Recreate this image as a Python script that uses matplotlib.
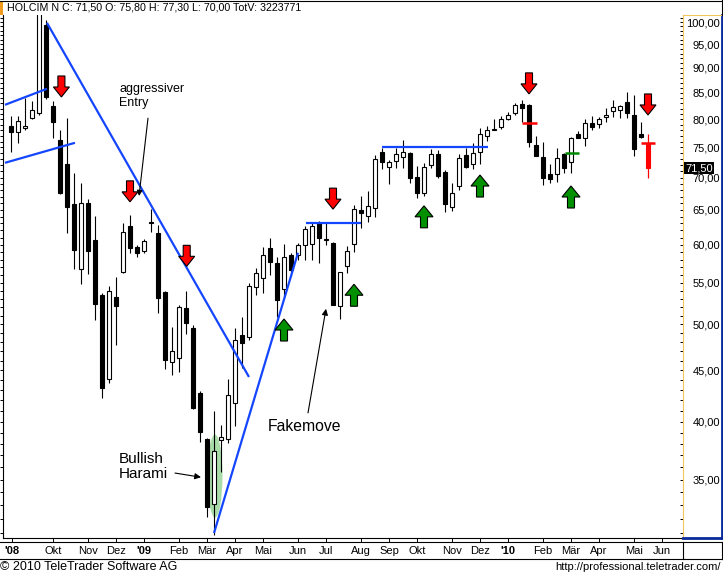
import numpy as np
import matplotlib
matplotlib.use('Agg')
import matplotlib.pyplot as plt
from matplotlib import transforms
from matplotlib.patches import Polygon, Ellipse
from matplotlib.lines import Line2D
from matplotlib.ticker import FixedLocator, NullFormatter, FuncFormatter

plt.rcParams['font.family'] = ['Liberation Sans', 'DejaVu Sans']

# ---------------- data (weekly candles, Aug 2008 - May 2010) ----------------
opens = [78.8, 77.7, 78.4, 80.2, 81.2, 99.3, 82.5, 76.3, 72.2, 65.9,
         56.7, 66.0, 60.65, 53.5, 44.1, 53.2, 56.4, 62.6, 59.7, 59.1,
         63.2, 61.6, 53.8, 45.85, 46.3, 51.9, 49.6, 42.7, 38.4, 33.1,
         38.3, 38.4, 41.7, 48.8, 48.6, 54.4, 55.6, 59.55, 57.5, 54.2,
         58.6, 58.6, 59.9, 60.1, 63.1, 60.6, 60.2, 52.1, 57.1, 60.1,
         64.9, 64.1, 65.3, 74.2, 71.7, 72.7, 73.4, 74.0, 70.1, 67.6,
         72.0, 73.9, 70.9, 65.4, 68.6, 73.7, 72.2, 74.2, 77.0, 78.1,
         78.6, 80.0, 81.2, 82.8, 82.6, 75.4, 73.4, 70.6, 70.6, 73.9,
         72.5, 77.3, 76.6, 79.3, 79.2, 80.5, 81.6, 81.7, 83.2, 80.8,
         77.3, 75.8]
highs = [80.6, 80.6, 84.0, 83.4, 106.0, 100.5, 83.4, 78.0, 80.2, 70.7,
         69.1, 66.6, 64.1, 53.7, 54.6, 55.7, 63.1, 64.2, 60.0, 60.8,
         65.1, 62.8, 54.0, 49.7, 52.3, 53.95, 49.9, 42.9, 38.5, 41.0,
         39.7, 44.1, 49.6, 50.8, 55.0, 56.9, 59.7, 60.9, 58.3, 60.1,
         58.9, 60.3, 62.6, 63.1, 63.3, 63.1, 60.4, 56.4, 59.8, 65.7,
         67.1, 67.8, 73.7, 74.9, 72.8, 74.9, 76.3, 74.2, 71.9, 72.4,
         74.7, 74.5, 71.2, 69.1, 73.9, 74.9, 75.8, 78.4, 78.8, 80.0,
         80.6, 81.4, 83.0, 83.6, 82.8, 77.0, 75.9, 72.2, 74.9, 74.0,
         76.8, 77.9, 80.0, 80.6, 80.4, 82.1, 83.6, 82.6, 85.2, 84.6,
         79.5, 77.3]
lows = [74.2, 75.8, 78.0, 80.0, 80.8, 83.8, 76.6, 67.4, 61.6, 56.7,
        54.8, 56.1, 50.5, 42.2, 43.7, 47.7, 56.2, 58.9, 58.4, 58.9,
        61.8, 51.3, 45.1, 44.5, 44.8, 48.9, 41.2, 38.2, 32.1, 30.8,
        35.6, 38.1, 39.6, 45.2, 48.2, 53.5, 53.7, 56.0, 50.8, 53.1,
        55.8, 57.9, 57.9, 57.9, 57.5, 60.0, 52.2, 50.6, 56.2, 59.0,
        62.3, 63.2, 64.0, 71.4, 69.0, 71.6, 71.6, 69.1, 66.8, 67.1,
        71.6, 70.0, 64.7, 64.8, 68.0, 71.6, 71.4, 72.2, 76.1, 78.0,
        78.2, 79.8, 80.8, 79.5, 75.1, 73.5, 68.8, 69.1, 69.3, 70.7,
        70.7, 76.6, 75.2, 78.0, 78.5, 79.5, 80.4, 80.2, 80.2, 73.6,
        76.6, 70.0]
closes = [77.7, 79.7, 78.7, 81.7, 102.5, 84.2, 79.5, 67.6, 65.4, 59.3,
          66.0, 59.1, 52.4, 43.2, 53.95, 52.1, 61.8, 59.55, 58.9, 60.5,
          63.0, 53.1, 46.06, 47.0, 52.0, 50.1, 41.3, 39.05, 32.9, 37.4,
          38.6, 42.5, 48.2, 47.9, 54.6, 56.2, 58.6, 57.7, 52.9, 58.3,
          56.6, 59.9, 62.2, 62.6, 60.9, 60.8, 52.3, 56.3, 59.1, 65.1,
          64.6, 65.6, 73.0, 72.5, 72.5, 73.9, 74.2, 69.9, 67.6, 71.7,
          73.9, 70.2, 65.9, 67.6, 73.2, 71.7, 74.0, 77.3, 78.0, 78.3,
          80.0, 80.8, 82.6, 82.1, 75.9, 73.6, 69.9, 69.8, 73.2, 71.6,
          76.6, 76.6, 79.3, 78.6, 80.0, 80.7, 82.3, 82.5, 81.2, 74.7,
          76.8, 71.5]
total_volume = 3223771

month_pos = [0.15, 6, 11, 15, 19, 24, 28, 32, 36, 41, 45, 50, 54, 58,
             63, 67, 71, 76, 80, 84, 89, 93]
month_labels = ["'08", "Okt", "Nov", "Dez", "'09", "Feb", "Mär", "Apr",
                "Mai", "Jun", "Jul", "Aug", "Sep", "Okt", "Nov", "Dez",
                "'10", "Feb", "Mär", "Apr", "Mai", "Jun"]
price_ticks = [35, 40, 45, 50, 55, 60, 65, 70, 75, 80, 85, 90, 95, 100]

# trend lines (week index, price)
line1_x, line1_y = [-0.86, 5.14], [82.7, 85.8]
line2_x, line2_y = [-0.86, 9.14], [72.4, 75.8]
line3_x, line3_y = [5.14, 34.0], [99.8, 44.3]
line4_x, line4_y = [29.0, 41.0], [30.97, 58.9]
line5_x, line5_y = [42.14, 50.0], [63.07, 63.07]
line6_x, line6_y = [53.0, 68.14], [75.08, 75.08]

red_arrow_x = [7.2, 17.0, 25.1, 46.0, 74.0, 91.0]
red_arrow_y = [84.2, 66.2, 57.1, 65.1, 84.8, 80.8]
green_arrow_x = [39.0, 49.0, 59.0, 67.0, 80.0]
green_arrow_y = [50.6, 54.8, 65.6, 70.4, 68.65]

red_mark = (74.07, 79.3)
green_mark = (80.1, 74.05)

# ---------------- figure ----------------
W, H = 723, 577
fig = plt.figure(figsize=(W / 100, H / 100), dpi=100)

def fx(px):
    return px / W

def fy(py):
    return 1 - py / H

ax = fig.add_axes([fx(3), fy(538), fx(683) - fx(3), fy(15) - fy(538)])
ax.set_yscale('log')
ax.set_xlim(-8 / 7, 96)
ax.set_ylim(100 * np.exp(-516 / 436), 100 * np.exp(7 / 436))

pax = fig.add_axes([fx(683), fy(538), fx(722) - fx(683), fy(15) - fy(538)],
                   sharey=ax)
pax.set_facecolor('none')

x = np.arange(len(opens))
o = np.array(opens); c = np.array(closes); h = np.array(highs); l = np.array(lows)
n = len(o)
bw = 0.62
xs = x[:-1]
ax.vlines(xs, l[:-1], h[:-1], color='black', lw=0.8, zorder=3)
up = c[:-1] >= o[:-1]
bot = np.minimum(o, c)[:-1]
hgt = np.maximum(np.abs(c - o)[:-1], 0.08)
ax.bar(xs[up], hgt[up], bottom=bot[up], width=bw, facecolor='white',
       edgecolor='black', lw=0.8, zorder=4)
ax.bar(xs[~up], hgt[~up], bottom=bot[~up], width=bw, facecolor='black',
       edgecolor='black', lw=0.8, zorder=4)
# current (last) candle in red
ax.vlines(x[-1], l[-1], h[-1], color='red', lw=0.9, zorder=3)
ax.bar(x[-1], abs(c[-1] - o[-1]), bottom=min(o[-1], c[-1]), width=bw,
       facecolor='red', edgecolor='red', lw=0.8, zorder=4)
ax.hlines(o[-1], x[-1] - 1.07, x[-1] + 1.07, color='red', lw=1.8, zorder=5)
ax.hlines(red_mark[1], red_mark[0] - 1.07, red_mark[0] + 1.07, color='red', lw=1.8, zorder=5)
ax.hlines(green_mark[1], green_mark[0] - 1.0, green_mark[0] + 1.0, color='#008800', lw=1.8, zorder=5)

# trend lines
blue = '#1446ff'
for lx, ly in [(line1_x, line1_y), (line2_x, line2_y), (line3_x, line3_y),
               (line4_x, line4_y), (line5_x, line5_y), (line6_x, line6_y)]:
    ax.plot(lx, ly, color=blue, lw=1.6, zorder=5, solid_capstyle='butt')

# block arrows
def block_arrow(xd, yd, color, down, hw, sw, total, hl):
    s = 1 / 100.0
    pts = [(0, 0), (hw / 2, hl), (sw / 2, hl), (sw / 2, total),
           (-sw / 2, total), (-sw / 2, hl), (-hw / 2, hl)]
    sign = 1 if down else -1
    verts = [(px * s, sign * py * s) for px, py in pts]
    tr = fig.dpi_scale_trans + transforms.ScaledTranslation(xd, yd, ax.transData)
    poly = Polygon(verts, closed=True, facecolor=color, edgecolor='black',
                   lw=0.8, transform=tr, zorder=7, clip_on=False)
    ax.add_patch(poly)

for xa, ya in zip(red_arrow_x, red_arrow_y):
    block_arrow(xa, ya, '#ff0000', True, 16, 7, 21, 10)
for xa, ya in zip(green_arrow_x, green_arrow_y):
    block_arrow(xa, ya, '#009000', False, 18, 7, 22, 11)

# green ellipse around harami
etr = fig.dpi_scale_trans + transforms.ScaledTranslation(29.14, 35.3, ax.transData)
ax.add_patch(Ellipse((0, 0), 0.15, 0.83, facecolor='#a9dca9', edgecolor='none',
                     transform=etr, zorder=2))

# annotations
ax.text(15.43, 86.9, 'aggressiver\nEntry', fontsize=9, va='top', ha='left',
        linespacing=1.15, zorder=8)
ax.annotate('', xy=(18.29, 67.1), xytext=(19.57, 80.2),
            arrowprops=dict(arrowstyle='-|>', color='black', lw=0.8,
                            mutation_scale=8, shrinkA=0, shrinkB=0), zorder=8)
ax.text(15.43, 37.3, 'Bullish\nHarami', fontsize=11, va='top', ha='left',
        linespacing=1.1, zorder=8)
ax.annotate('', xy=(27.14, 35.2), xytext=(23.43, 35.54),
            arrowprops=dict(arrowstyle='-|>', color='black', lw=0.8,
                            mutation_scale=9, shrinkA=0, shrinkB=0), zorder=8)
ax.text(36.71, 39.5, 'Fakemove', fontsize=11.3, va='center', ha='left', zorder=8)
ax.annotate('', xy=(45.0, 51.8), xytext=(42.43, 40.8),
            arrowprops=dict(arrowstyle='-|>', color='black', lw=0.8,
                            mutation_scale=9, shrinkA=0, shrinkB=0), zorder=8)

# axes styling
for s in ['top', 'right']:
    ax.spines[s].set_visible(False)
ax.spines['left'].set_linewidth(0.8)
ax.spines['bottom'].set_linewidth(0.8)

ax.yaxis.set_major_locator(FixedLocator(price_ticks))
ax.yaxis.set_minor_locator(FixedLocator(list(range(31, 102))))
ax.yaxis.set_major_formatter(FuncFormatter(lambda v, p: f"{v:.2f}".replace('.', ',')))
ax.yaxis.set_minor_formatter(NullFormatter())
ax.tick_params(axis='y', which='both', left=True, right=False, labelleft=False,
               direction='out', length=2.2, width=0.7)

ax.set_xticks(month_pos)
ax.set_xticklabels(month_labels)
ax.tick_params(axis='x', which='major', direction='out', length=2.6, width=0.7,
               labelsize=8, pad=3.5)
for lbl in ax.get_xticklabels():
    if lbl.get_text().startswith("'"):
        lbl.set_fontweight('bold')

pax.set_xticks([])
pax.tick_params(axis='y', which='both', left=True, right=False, labelleft=True,
                labelright=False, direction='out', length=2.2, width=0.7,
                labelsize=8, pad=-28.8)
yel = '#f2c75c'
dblue = '#0a2a9a'
pax.spines['left'].set_color(yel)
pax.spines['top'].set_color(yel)
pax.spines['right'].set_color(dblue)
pax.spines['right'].set_linewidth(2)
pax.spines['bottom'].set_color(dblue)
pax.spines['bottom'].set_linewidth(2)

# last price tag
ptr = transforms.blended_transform_factory(pax.transAxes, pax.transData)
pax.text(0.06, c[-1], f"{c[-1]:.2f}".replace('.', ','), transform=ptr, color='white',
         fontsize=8, va='center', ha='left', zorder=10,
         bbox=dict(facecolor='black', edgecolor='none', pad=0.8))

# date band frame
def fline(x0, y0, x1, y1, color='black', lw=0.8):
    fig.add_artist(Line2D([fx(x0), fx(x1)], [fy(y0), fy(y1)], color=color, lw=lw,
                          transform=fig.transFigure))

fline(0, 542, 722, 542)
fline(0, 559, 722, 559)
fline(683, 542, 683, 559)
fline(722, 542, 722, 559)
# title bar frame
fline(0, 0.5, 723, 0.5)
fline(722, 0, 722, 15)
fig.add_artist(plt.Rectangle((0, fy(15)), fx(3), fy(2) - fy(15), facecolor='#f29a1c',
                             edgecolor='none', transform=fig.transFigure))

fmt = lambda v: f"{v:.2f}".replace('.', ',')
title = (f"HOLCIM N C: {fmt(c[-1])} O: {fmt(o[-1])} H: {fmt(h[-1])} "
         f"L: {fmt(l[-1])} TotV: {total_volume}")
fig.text(fx(7), fy(8), title, fontsize=7.7, va='center', ha='left')
fig.text(fx(0), fy(567.5), '© 2010 TeleTrader Software AG', fontsize=9,
         va='center', ha='left')
fig.text(fx(721), fy(567.5), 'http://professional.teletrader.com/', fontsize=8,
         va='center', ha='right')

fig.savefig('out.png', dpi=100)
